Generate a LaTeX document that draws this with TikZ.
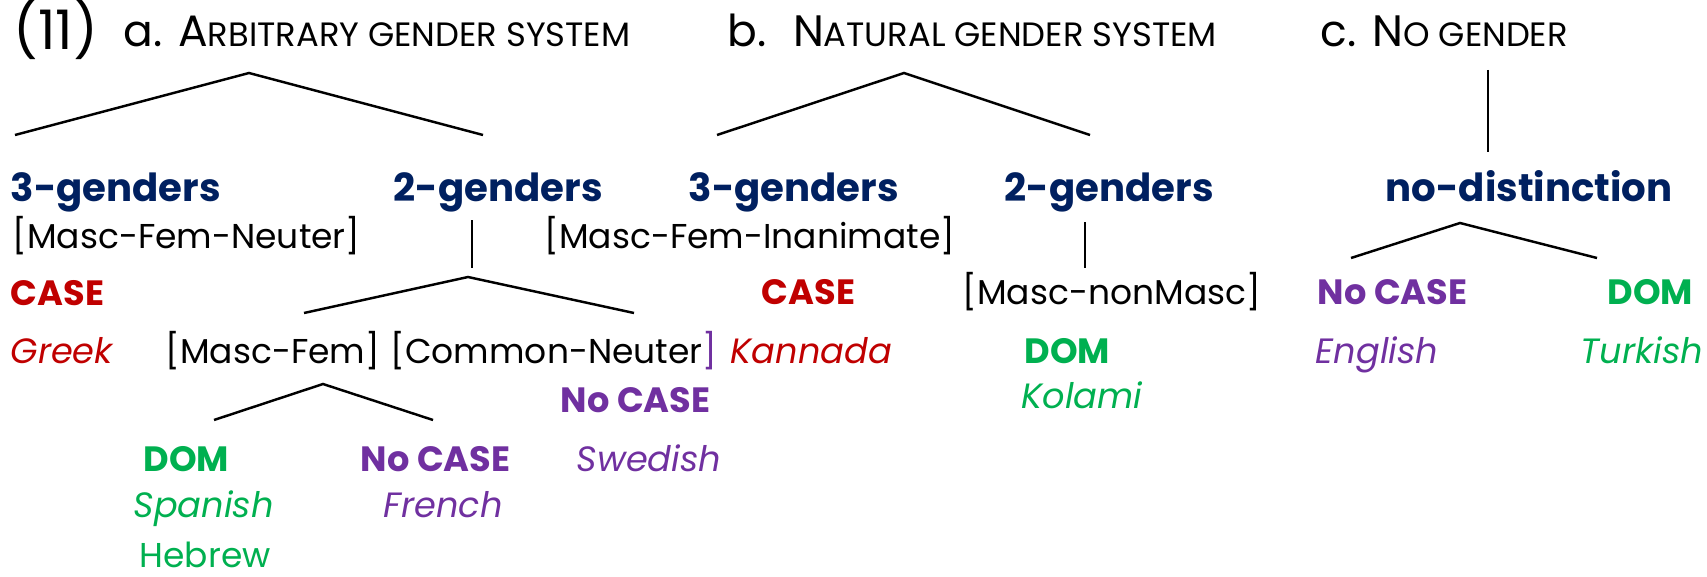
\documentclass[tikz,border=0pt]{standalone}
\usepackage{fontspec}
\setmainfont{Poppins}
\usetikzlibrary{positioning}
\definecolor{genderBlue}{RGB}{0,32,96}
\definecolor{caseRed}{RGB}{192,0,0}
\definecolor{noCasePurple}{RGB}{112,48,160}
\definecolor{domGreen}{RGB}{0,176,80}
\pgfdeclarehorizontalshading{slideBack}{100bp}{color(0bp)=(black!9); color(20bp)=(white); color(78bp)=(white); color(100bp)=(black!9)}
\tikzstyle{pixels} = [x = 0.01cm, y = -0.01cm]
\tikzstyle{plainText} = [anchor = base west, inner sep = 0pt, font = \fontsize{9.8}{12}\selectfont]
\tikzstyle{titleText} = [plainText, font = \fontsize{12.5}{15}\selectfont]
\tikzstyle{genderText} = [plainText, color = genderBlue, font = \fontsize{11}{14}\selectfont\bfseries]
\tikzstyle{caseText} = [plainText, color = caseRed, font = \fontsize{10}{12}\selectfont\bfseries]
\tikzstyle{noCaseText} = [caseText, color = noCasePurple]
\tikzstyle{domText} = [caseText, color = domGreen]
\tikzstyle{languageText} = [plainText, font = \fontsize{10}{12}\selectfont\itshape]
\tikzstyle{treeLine} = [color = black, line width = .7pt]
\newcommand{\smallCaps}[1]{{\fontsize{9.6}{12}\selectfont #1}}
\newcommand{\branching}[3]{\draw [treeLine] (#2) -- (#1) -- (#3);}
\newcommand{\stem}[2]{\draw [treeLine] (#1) -- (#2);}

\begin{document}
\begin{tikzpicture}[pixels]
  \shade [shading = slideBack] (0,0) rectangle (1707,576);
  \useasboundingbox (0,0) rectangle (1707,576);

  % titles
  \node [titleText, font = \fontsize{15.5}{18}\selectfont] (exNumber) at (13,50) {(11)};
  \node [titleText] (titleA) at (123,47) {a. A\smallCaps{RBITRARY GENDER SYSTEM}};
  \node [titleText] (titleB) at (727,47) {b.\hspace{.6em}N\smallCaps{ATURAL GENDER SYSTEM}};
  \node [titleText] (titleC) at (1320,47) {c. N\smallCaps{O GENDER}};

  % a. arbitrary gender
  \coordinate (apexA) at (249,73);
  \coordinate (legA1) at (15,135);
  \coordinate (legA2) at (483,135);
  \branching{apexA}{legA1}{legA2}
  \node [genderText] (threeA) at (10,201) {3-genders};
  \node [genderText] (twoA) at (393,201) {2-genders};
  \node [plainText] (featA) at (12,248) {[Masc-Fem-Neuter]};
  \coordinate (stemA1) at (472,220);
  \coordinate (stemA2) at (472,268);
  \stem{stemA1}{stemA2}
  \coordinate (apexA2) at (468,277);
  \coordinate (legA3) at (304,313);
  \coordinate (legA4) at (634,313);
  \branching{apexA2}{legA3}{legA4}
  \node [caseText] (caseA) at (10,305) {CASE};
  \node [languageText, color = caseRed] (greek) at (10,363) {Greek};
  \node [plainText] (featMF) at (165,363) {[Masc-Fem]};
  \node [plainText] (featCN) at (390,363) {[Common-Neuter\textcolor{noCasePurple}{]}};
  \node [noCaseText] (noCaseCN) at (560,412) {No CASE};
  \coordinate (apexA3) at (323,384);
  \coordinate (legA5) at (214,420);
  \coordinate (legA6) at (433,420);
  \branching{apexA3}{legA5}{legA6}
  \node [domText] (domMF) at (143,471) {DOM};
  \node [noCaseText] (noCaseMF) at (360,471) {No CASE};
  \node [languageText, color = noCasePurple] (swedish) at (576,471) {Swedish};
  \node [languageText, color = domGreen] (spanish) at (133,517) {Spanish};
  \node [languageText, color = noCasePurple] (french) at (383,517) {French};
  \node [plainText, color = domGreen, text depth = 0pt] (hebrew) at (139,567) {Hebrew};

  % b. natural gender
  \coordinate (apexB) at (904,73);
  \coordinate (legB1) at (717,135);
  \coordinate (legB2) at (1090,135);
  \branching{apexB}{legB1}{legB2}
  \node [genderText] (threeB) at (688,201) {3-genders};
  \node [genderText] (twoB) at (1004,201) {2-genders};
  \node [plainText] (featB) at (544,248) {[Masc-Fem-Inanimate]};
  \coordinate (stemB1) at (1085,222);
  \coordinate (stemB2) at (1085,268);
  \stem{stemB1}{stemB2}
  \node [caseText] (caseB) at (761,304) {CASE};
  \node [languageText, color = caseRed] (kannada) at (730,363) {Kannada};
  \node [plainText] (featMN) at (962,304) {[Masc-nonMasc]};
  \node [domText] (domB) at (1024,363) {DOM};
  \node [languageText, color = domGreen] (kolami) at (1021,408) {Kolami};

  % c. no gender
  \coordinate (stemC1) at (1488,70);
  \coordinate (stemC2) at (1488,152);
  \stem{stemC1}{stemC2}
  \node [genderText] (noDist) at (1385,202) {no-distinction};
  \coordinate (apexC) at (1460,223);
  \coordinate (legC1) at (1351,258);
  \coordinate (legC2) at (1597,258);
  \branching{apexC}{legC1}{legC2}
  \node [noCaseText] (noCaseC) at (1317,304) {No CASE};
  \node [domText] (domC) at (1607,304) {DOM};
  \node [languageText, color = noCasePurple] (english) at (1315,363) {English};
  \node [languageText, color = domGreen] (turkish) at (1580,363) {Turkish};
\end{tikzpicture}
\end{document}
